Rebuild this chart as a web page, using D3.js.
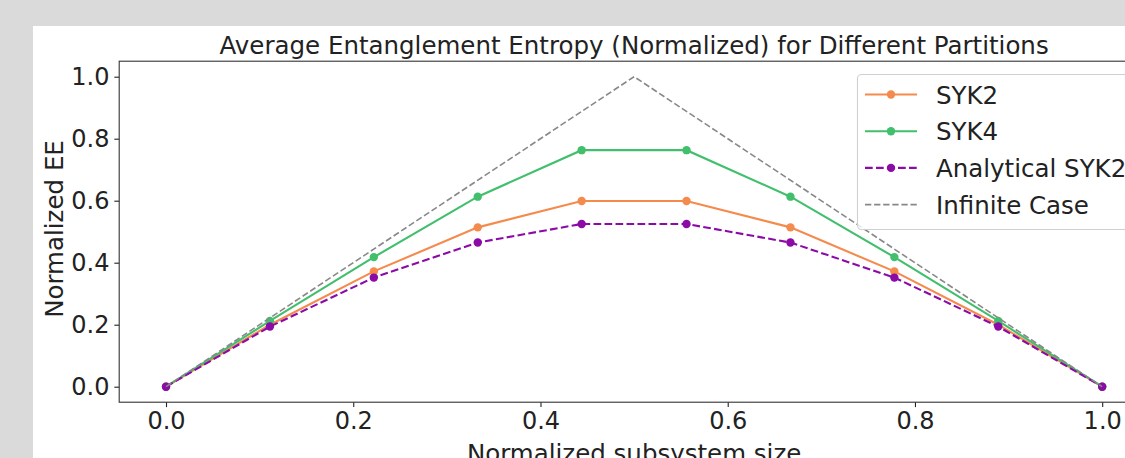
<!DOCTYPE html>
<html>
<head>
<meta charset="utf-8">
<script src="https://cdn.jsdelivr.net/npm/d3@7"></script>
<style>
  body { margin: 0; background: #dadada; }
  svg { display: block; font-family: "DejaVu Sans", sans-serif; }
</style>
</head>
<body>
<script>
'use strict';

// données
const xs = [0, 0.111, 0.222, 0.333, 0.444, 0.556, 0.667, 0.778, 0.889, 1.0];
const syk2 = [0, 0.200, 0.372, 0.514, 0.599, 0.599, 0.514, 0.372, 0.200, 0];
const syk4 = [0, 0.212, 0.418, 0.613, 0.763, 0.763, 0.613, 0.418, 0.212, 0];
const analytical = [0, 0.194, 0.352, 0.465, 0.525, 0.525, 0.465, 0.352, 0.194, 0];
const infX = [0, 0.5, 1];
const infY = [0, 1, 0];
const xTicks = [0, 0.2, 0.4, 0.6, 0.8, 1.0];
const yTicks = [0, 0.2, 0.4, 0.6, 0.8, 1.0];

const series = [
  {name: "SYK2", x: xs, y: syk2, color: "#f58a4d", dash: null, marker: true},
  {name: "SYK4", x: xs, y: syk4, color: "#41bf6d", dash: null, marker: true},
  {name: "Analytical SYK2", x: xs, y: analytical, color: "#8c0ba6", dash: "7.7,3.3", marker: true},
  {name: "Infinite Case", x: infX, y: infY, color: "#888888", dash: "6.3,2.8", marker: false, width: 1.6}
];

const W = 1125, H = 458;
const canevas = d3.select("body").append("svg")
  .attr("width", W)
  .attr("height", H);

canevas.append("rect").attr("width", W).attr("height", H).attr("fill", "#dadada");
canevas.append("rect").attr("x", 33).attr("y", 26).attr("width", W - 33).attr("height", H - 26).attr("fill", "#fff");

const mLeft = 119.2, mRight = 1149, mTop = 61.2, mBottom = 402.2;

const x = d3.scaleLinear().domain([-0.05, 1.05]).range([mLeft, mRight]);
const y = d3.scaleLinear().domain([-0.05, 1.05]).range([mBottom, mTop]);

const fsTick = 24, fs = 24.5;

// axes
const gx = canevas.append("g")
  .attr("transform", `translate(0,${mBottom})`)
  .call(d3.axisBottom(x).tickValues(xTicks).tickFormat(d3.format(".1f")).tickSizeInner(4.9).tickSizeOuter(0).tickPadding(4.9));
const gy = canevas.append("g")
  .attr("transform", `translate(${mLeft},0)`)
  .call(d3.axisLeft(y).tickValues(yTicks).tickFormat(d3.format(".1f")).tickSizeInner(4.9).tickSizeOuter(0).tickPadding(4.9));

[gx, gy].forEach(g => {
  g.select(".domain").remove();
  g.selectAll(".tick line").attr("stroke", "#222").attr("stroke-width", 1.1);
  g.selectAll(".tick text").attr("fill", "#222").style("font-size", fsTick + "px").style("font-family", "DejaVu Sans");
});

// cadre
canevas.append("rect")
  .attr("x", mLeft).attr("y", mTop)
  .attr("width", mRight - mLeft).attr("height", mBottom - mTop)
  .attr("fill", "none").attr("stroke", "#333").attr("stroke-width", 1.1);

// courbes
const line = d3.line();
const plot = canevas.append("g");
series.forEach(s => {
  const pts = s.x.map((v, i) => [x(v), y(s.y[i])]);
  plot.append("path")
    .attr("d", line(pts))
    .attr("fill", "none")
    .attr("stroke", s.color)
    .attr("stroke-width", s.width || 2.1)
    .attr("stroke-dasharray", s.dash);
  if (s.marker) {
    plot.selectAll(null)
      .data(pts)
      .enter()
      .append("circle")
        .attr("cx", d => d[0])
        .attr("cy", d => d[1])
        .attr("r", 4.2)
        .attr("fill", s.color);
  }
});

// titre et étiquettes
canevas.append("text")
  .attr("x", (mLeft + mRight) / 2).attr("y", 54)
  .attr("text-anchor", "middle")
  .attr("fill", "#222")
  .style("font-size", fs + "px")
  .text("Average Entanglement Entropy (Normalized) for Different Partitions");

canevas.append("text")
  .attr("transform", "translate(63,229) rotate(-90)")
  .attr("text-anchor", "middle")
  .attr("fill", "#222")
  .style("font-size", fs + "px")
  .text("Normalized EE");

canevas.append("text")
  .attr("x", (mLeft + mRight) / 2).attr("y", 461.5)
  .attr("text-anchor", "middle")
  .attr("fill", "#222")
  .style("font-size", fs + "px")
  .text("Normalized subsystem size");

// légende
const leg = canevas.append("g");
leg.append("rect")
  .attr("x", 857.5).attr("y", 74.5)
  .attr("width", 300).attr("height", 155)
  .attr("rx", 4)
  .attr("fill", "rgba(255,255,255,0.8)")
  .attr("stroke", "#d0d0d0")
  .attr("stroke-width", 1.1);

series.forEach((s, i) => {
  const ly = 94.5 + i * 36.7;
  leg.append("line")
    .attr("x1", 865).attr("x2", 917)
    .attr("y1", ly).attr("y2", ly)
    .attr("stroke", s.color)
    .attr("stroke-width", s.width || 2.1)
    .attr("stroke-dasharray", s.dash);
  if (s.marker) {
    leg.append("circle").attr("cx", 891).attr("cy", ly).attr("r", 4.2).attr("fill", s.color);
  }
  leg.append("text")
    .attr("x", 936).attr("y", ly + 9)
    .attr("fill", "#222")
    .style("font-size", fs + "px")
    .text(s.name);
});
</script>
</body>
</html>
